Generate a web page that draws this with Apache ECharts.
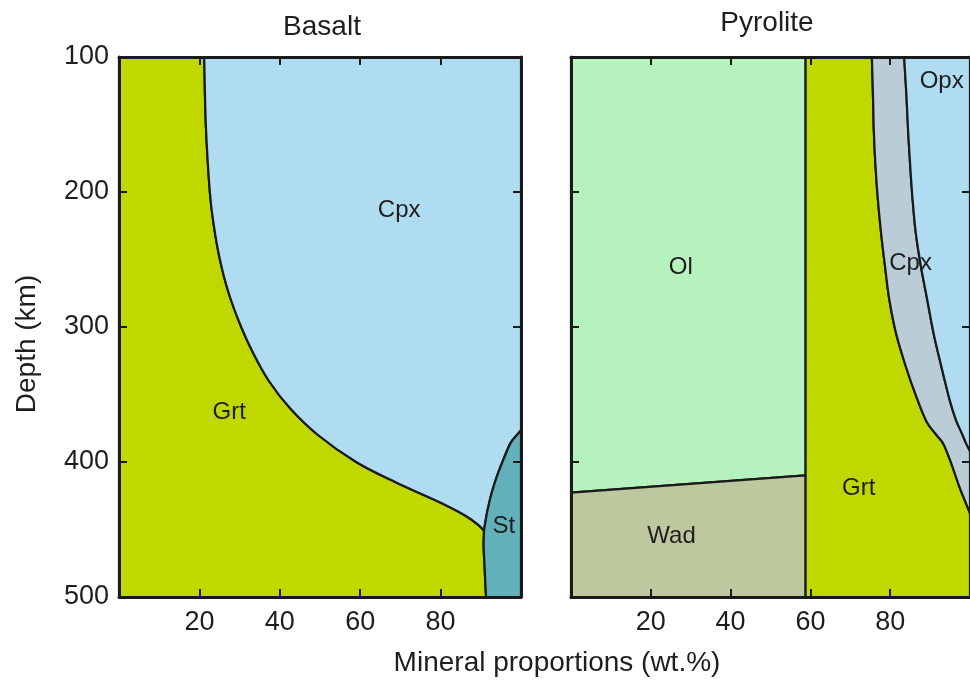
<!DOCTYPE html>
<html>
<head>
<meta charset="utf-8">
<script src="https://cdn.jsdelivr.net/npm/echarts@6/dist/echarts.min.js"></script>
<style>
  html, body { margin: 0; padding: 0; background: #ffffff; }
  #chart { width: 970px; height: 682px; }
</style>
</head>
<body>
<div id="chart"></div>
<script>
// ---------- data (x = mineral proportion wt.%, y = depth km) ----------
const panelTitles = ['Basalt', 'Pyrolite'];
const propRange = [0, 100];
const propStep = 20;
const depthRange = [100, 500];
const depthStep = 100;

// Basalt boundaries
const basaltGrtCpx = [[21.2,100],[21.6,150],[22.6,200],[23.6,225],[25.1,250],[27.3,275],[30.4,300],[33.5,320],[37.3,340],[42.5,360],[49.5,380],[59.0,400],[68.8,415],[79.9,430],[86.3,440],[89.5,447],[90.8,451]];
const basaltCpxSt = [[100,376.5],[99.0,380],[97.4,386],[95.6,398.3],[94.0,410.7],[92.7,423],[91.7,435.3],[91.1,445],[90.8,451]];
const basaltGrtSt = [[90.8,451],[90.7,462],[90.9,475],[91.1,488],[91.3,500]];

// Pyrolite boundaries
const pyroOlWad = [[0,422.7],[58.8,409.9]];
const pyroOlGrtX = 58.8;
const pyroGrtCpx = [[75.4,100],[75.7,130],[75.9,155],[76.3,180],[76.9,205],[77.7,230],[78.7,255],[79.8,280],[81.5,305],[84.0,330],[86.6,352],[89.1,370],[91.6,380],[93.4,387],[95.3,401],[97.3,418],[99.0,430.6],[100,438]];
const pyroCpxOpx = [[83.5,100],[84.1,130],[84.5,155],[85.0,180],[85.6,205],[86.4,230],[87.7,255],[89.3,280],[90.9,305],[92.8,329],[94.9,354],[96.5,369],[98.0,379],[99.0,386],[100,392]];

// Phase labels
const basaltLabels = [{name:'Cpx', value:[69.7,213.5]},{name:'Grt', value:[27.4,363.5]},{name:'St', value:[95.7,447.5]}];
const pyroLabels = [{name:'Ol', value:[27.5,255.6]},{name:'Wad', value:[25.2,454.8]},{name:'Grt', value:[72.1,419.3]},{name:'Cpx', value:[85.1,253]},{name:'Opx', value:[92.9,118]}];

// ---------- styles ----------
const FONT = '"Liberation Sans", Arial, sans-serif';
const TXT = '#1e1e1e';
const LINE = '#1a1a1a';
const COL = {
  grt: '#bfd900', cpxB: '#b0dcf1', st: '#62b0b9',
  ol: '#b6f2be', wad: '#bec89e', cpxP: '#baccd6', opx: '#b0dcf1'
};

const rev = a => a.slice().reverse();
const L = pts => ({ smooth: false, pts: pts });
const C = pts => ({ smooth: true, pts: pts });

// Regions as sequences of straight (L) and smooth (C) boundary parts
const basaltRegions = [
  { color: COL.grt, parts: [L([[0,depthRange[0]]]), C(basaltGrtCpx), C(basaltGrtSt), L([[0,depthRange[1]]])] },
  { color: COL.cpxB, parts: [C(basaltGrtCpx), C(rev(basaltCpxSt)), L([[100,depthRange[0]]])] },
  { color: COL.st, parts: [C(basaltCpxSt), C(basaltGrtSt), L([[100,depthRange[1]]])] }
];
const pyroRegions = [
  { color: COL.ol, parts: [L([[0,depthRange[0]],[pyroOlGrtX,depthRange[0]], pyroOlWad[1], pyroOlWad[0]])] },
  { color: COL.wad, parts: [L([pyroOlWad[0], pyroOlWad[1], [pyroOlGrtX,depthRange[1]], [0,depthRange[1]]])] },
  { color: COL.grt, parts: [L([[pyroOlGrtX,depthRange[0]]]), C(pyroGrtCpx), L([[100,depthRange[1]], [pyroOlGrtX,depthRange[1]]])] },
  { color: COL.cpxP, parts: [C(pyroGrtCpx), C(rev(pyroCpxOpx))] },
  { color: COL.opx, parts: [C(pyroCpxOpx), L([[100,depthRange[0]]])] }
];

// Build an SVG path through pixel points (Catmull-Rom -> cubic Bezier for smooth parts)
function buildPath(parts, api) {
  let d = '';
  let cur = null;
  const f = v => v.toFixed(2);
  const same = (a, b) => a && Math.abs(a[0]-b[0]) < 0.01 && Math.abs(a[1]-b[1]) < 0.01;
  parts.forEach(part => {
    const P = part.pts.map(p => api.coord(p));
    let start = 0;
    if (cur === null) { d += 'M' + f(P[0][0]) + ' ' + f(P[0][1]); cur = P[0]; start = 1; }
    else if (same(cur, P[0])) { start = 1; }
    if (!part.smooth) {
      for (let i = start; i < P.length; i++) { d += 'L' + f(P[i][0]) + ' ' + f(P[i][1]); cur = P[i]; }
    } else {
      if (start === 0) { d += 'L' + f(P[0][0]) + ' ' + f(P[0][1]); }
      for (let i = 0; i < P.length - 1; i++) {
        const p0 = P[i-1] || P[i], p1 = P[i], p2 = P[i+1], p3 = P[i+2] || P[i+1];
        const c1 = [p1[0] + (p2[0]-p0[0])/6, p1[1] + (p2[1]-p0[1])/6];
        const c2 = [p2[0] - (p3[0]-p1[0])/6, p2[1] - (p3[1]-p1[1])/6];
        d += 'C' + f(c1[0]) + ' ' + f(c1[1]) + ' ' + f(c2[0]) + ' ' + f(c2[1]) + ' ' + f(p2[0]) + ' ' + f(p2[1]);
      }
      cur = P[P.length-1];
    }
  });
  return d + 'Z';
}

function xAx(grid, pos, showLabel) {
  return {
    type: 'value', gridIndex: grid, position: pos, min: propRange[0], max: propRange[1], interval: propStep,
    z: 10,
    axisLine: { show: true, onZero: false, lineStyle: { color: LINE, width: 3 } },
    axisTick: { show: true, inside: true, length: 8, lineStyle: { color: LINE, width: 2 } },
    axisLabel: { show: showLabel, showMinLabel: false, showMaxLabel: false, margin: 12,
                 fontSize: 27, fontFamily: FONT, color: TXT },
    splitLine: { show: false }
  };
}
function yAx(grid, pos, showLabel) {
  return {
    type: 'value', gridIndex: grid, position: pos, min: depthRange[0], max: depthRange[1], interval: depthStep,
    inverse: true, z: 10,
    axisLine: { show: true, onZero: false, lineStyle: { color: LINE, width: 3 } },
    axisTick: { show: true, inside: true, length: 8, lineStyle: { color: LINE, width: 2 } },
    axisLabel: { show: showLabel, margin: 10, fontSize: 27, fontFamily: FONT, color: TXT },
    splitLine: { show: false }
  };
}

function regionSeries(regions, axIdx) {
  return {
    type: 'custom', coordinateSystem: 'cartesian2d', xAxisIndex: axIdx, yAxisIndex: axIdx, z: 2,
    silent: true,
    data: regions.map(r => r.parts[0].pts[0]),
    renderItem: function (params, api) {
      const r = regions[params.dataIndex];
      return {
        type: 'path',
        shape: { pathData: buildPath(r.parts, api) },
        style: { fill: r.color, stroke: LINE, lineWidth: 2.2, lineJoin: 'round' }
      };
    }
  };
}
function labelSeries(labels, axIdx) {
  return {
    type: 'scatter', xAxisIndex: axIdx, yAxisIndex: axIdx, z: 20, silent: true,
    symbolSize: 1, itemStyle: { color: 'rgba(0,0,0,0)' },
    label: { show: true, position: 'inside', formatter: '{b}', fontSize: 24, fontFamily: FONT,
             color: TXT, textBorderWidth: 0, textBorderColor: 'transparent', opacity: 1 },
    data: labels
  };
}

const chart = echarts.init(document.getElementById('chart'), null, { renderer: 'canvas' });
chart.setOption({
  animation: false,
  backgroundColor: '#ffffff',
  grid: [
    { left: 119, top: 57, width: 402, height: 540 },
    { left: 571, top: 57, width: 403, height: 540 }
  ],
  xAxis: [ xAx(0,'bottom',true), xAx(1,'bottom',true), xAx(0,'top',false), xAx(1,'top',false) ],
  yAxis: [ yAx(0,'left',true), yAx(1,'left',false), yAx(0,'right',false), yAx(1,'right',false) ],
  series: [
    regionSeries(basaltRegions, 0),
    regionSeries(pyroRegions, 1),
    labelSeries(basaltLabels, 0),
    labelSeries(pyroLabels, 1)
  ],
  graphic: [
    { type: 'text', x: 322, y: 27, style: { text: panelTitles[0], fontSize: 28, fontFamily: FONT, fill: TXT, align: 'center', verticalAlign: 'middle' } },
    { type: 'text', x: 767, y: 23.5, style: { text: panelTitles[1], fontSize: 28, fontFamily: FONT, fill: TXT, align: 'center', verticalAlign: 'middle' } },
    { type: 'text', x: 557, y: 663, style: { text: 'Mineral proportions (wt.%)', fontSize: 28, fontFamily: FONT, fill: TXT, align: 'center', verticalAlign: 'middle' } },
    { type: 'text', x: 27, y: 344, rotation: Math.PI / 2, style: { text: 'Depth (km)', fontSize: 28, fontFamily: FONT, fill: TXT, align: 'center', verticalAlign: 'middle' } }
  ]
});
</script>
</body>
</html>
